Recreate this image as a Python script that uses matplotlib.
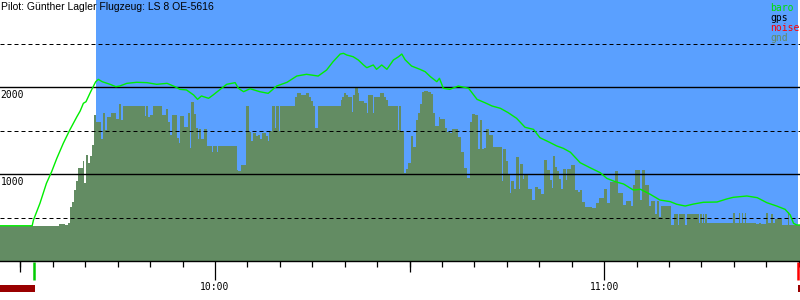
import matplotlib
matplotlib.use("Agg")
import matplotlib.pyplot as plt
from matplotlib.ticker import FixedLocator, MultipleLocator, FuncFormatter

# zeit in minuten ab 9:00, hoehe in m
title = "Pilot: Günther Lagler Flugzeug: LS 8 OE-5616"
t_start, t_end = 26.84, 150.2
t_takeoff, t_landing = 32.1, 149.9
t_flight = (41.6, 149.9)          # blauer bereich
t_noise = [(26.84, 32.2), (149.9, 150.2)]

# gnd: treppen (startzeit, wert)
gnd_t = [26.8, 35.9, 36.9, 37.3, 37.6, 37.9, 38.3, 38.6, 38.9, 39.2, 39.6, 39.8, 40.1,
         40.4, 40.7, 41.0, 41.3, 41.6, 42.4, 42.7, 43.0, 43.3, 44.0, 44.7, 45.2, 45.5,
         45.8, 49.2, 49.4, 49.7, 50.0, 50.4, 51.8, 52.4, 52.8, 53.1, 53.4, 54.1, 54.4,
         54.6, 55.2, 55.8, 56.1, 56.3, 56.8, 57.1, 57.4, 57.6, 57.8, 58.3, 58.8, 59.5,
         59.7, 60.3, 60.5, 63.4, 63.5, 64.0, 64.8, 65.2, 65.6, 65.9, 66.3, 66.6, 66.9,
         67.2, 67.9, 68.2, 68.3, 68.8, 69.3, 69.4, 69.9, 70.0, 72.3, 72.6, 73.3, 74.0,
         74.5, 74.8, 75.1, 75.4, 75.9, 79.4, 79.6, 79.9, 80.2, 80.5, 81.1, 81.3, 81.6,
         82.1, 82.2, 83.0, 83.4, 83.6, 84.4, 84.5, 85.5, 86.1, 86.4, 86.7, 88.2, 88.4,
         88.7, 89.2, 89.5, 89.8, 90.2, 90.5, 91.0, 91.3, 91.6, 91.9, 92.2, 92.9, 93.3,
         93.6, 93.9, 94.6, 94.7, 95.0, 95.5, 95.8, 96.2, 96.6, 97.5, 97.9, 98.4, 98.9,
         99.3, 99.6, 100.1, 100.6, 100.9, 101.2, 101.5, 101.8, 102.3, 102.9, 104.3, 104.4,
         104.9, 105.2, 105.5, 105.7, 106.1, 106.4, 106.9, 107.0, 107.5, 107.7, 108.3, 108.9,
         109.4, 109.8, 110.3, 110.7, 111.2, 111.7, 112.0, 112.1, 112.4, 112.8, 113.1, 113.4,
         113.7, 114.1, 114.3, 114.9, 115.5, 116.0, 116.3, 116.6, 117.1, 118.2, 118.8, 119.2,
         120.0, 120.5, 120.9, 121.7, 122.2, 122.9, 123.4, 124.2, 124.5, 124.8, 125.6, 125.9,
         126.3, 126.9, 127.2, 127.9, 128.2, 128.5, 128.8, 130.3, 130.8, 131.4, 131.6, 132.5,
         132.8, 134.7, 134.8, 135.1, 135.3, 135.4, 135.6, 135.9, 139.9, 140.1, 140.8, 141.0,
         141.3, 141.4, 141.7, 141.9, 143.4, 143.9, 144.2, 145.0, 145.3, 145.8, 146.1, 146.4,
         147.5, 148.4, 148.5]
gnd_v = [406, 429, 414, 441, 625, 682, 816, 923, 1065, 1069, 1153, 897, 1218,
         1126, 1207, 1333, 1678, 1601, 1402, 1705, 1506, 1659, 1705, 1628, 1805, 1621,
         1782, 1667, 1782, 1655, 1675, 1782, 1678, 1747, 1601, 1448, 1678, 1414, 1356,
         1667, 1540, 1705, 1299, 1828, 1690, 1529, 1402, 1517, 1402, 1517, 1322, 1257,
         1322, 1257, 1322, 1046, 1034, 1103, 1782, 1487, 1383, 1471, 1437, 1448, 1402,
         1471, 1441, 1383, 1498, 1782, 1529, 1782, 1498, 1782, 1885, 1927, 1908, 1927,
         1885, 1843, 1782, 1529, 1782, 1851, 1889, 1935, 1908, 1885, 1716, 1908, 1992,
         1927, 1839, 1813, 1698, 1908, 1705, 1885, 1927, 1885, 1851, 1782, 1506, 1782,
         1498, 1008, 1054, 1123, 1437, 1307, 1621, 1698, 1805, 1939, 1954, 1939, 1916,
         1698, 1552, 1659, 1632, 1628, 1525, 1487, 1475, 1513, 1421, 1249, 1069, 957,
         1598, 1690, 1678, 1287, 1621, 1284, 1295, 1513, 1448, 1314, 923, 1287,
         1153, 989, 778, 920, 828, 1199, 824, 1115, 939, 989, 828, 701,
         854, 828, 770, 1161, 1046, 931, 839, 1207, 1084, 1038, 943, 828,
         1057, 931, 1057, 1103, 816, 797, 816, 678, 617, 609, 663, 724,
         824, 663, 904, 1034, 778, 640, 690, 632, 874, 1046, 701, 1046,
         874, 632, 690, 540, 690, 502, 632, 414, 540, 414, 540, 414,
         540, 437, 540, 437, 540, 437, 540, 437, 555, 437, 555, 437,
         555, 437, 555, 437, 425, 437, 425, 555, 437, 540, 437, 483,
         414, 567, 414]

# baro
baro_t = [26.8, 31.8, 32.0, 33.0, 34.0, 34.8, 35.6, 36.6, 37.6, 38.7, 39.2, 39.7, 40.1,
          40.7, 41.0, 41.6, 42.0, 42.6, 43.8, 44.7, 45.3, 46.4, 47.9, 49.5, 51.0, 52.6,
          53.8, 54.6, 55.6, 56.7, 57.3, 57.9, 59.0, 59.7, 60.8, 61.8, 63.1, 63.6, 64.4,
          65.4, 66.9, 68.2, 69.5, 71.1, 72.6, 74.1, 75.9, 77.2, 78.2, 79.3, 79.8, 80.3,
          81.3, 82.1, 82.9, 83.4, 84.4, 84.9, 85.7, 86.5, 87.5, 88.3, 88.8, 89.3, 90.3,
          91.6, 92.4, 93.2, 94.2, 94.6, 95.2, 96.2, 97.5, 99.1, 100.4, 101.6, 102.7, 104.0,
          105.2, 106.5, 107.8, 109.1, 110.1, 111.4, 112.7, 113.7, 114.8, 116.3, 117.8, 119.4,
          120.4, 121.7, 123.0, 124.5, 125.6, 127.1, 128.6, 130.2, 131.2, 132.5, 133.8, 135.3,
          137.4, 138.9, 139.9, 142.0, 143.6, 145.1, 146.6, 147.9, 148.7, 149.2, 149.7, 150.2]
baro_v = [405, 405, 471, 663, 893, 1026, 1180, 1353, 1506, 1659, 1724, 1813, 1831,
          1927, 1973, 2061, 2088, 2061, 2031, 2004, 2011, 2042, 2054, 2050, 2031, 2042,
          2004, 1973, 1966, 1908, 1858, 1897, 1870, 1908, 1973, 2031, 2050, 1985, 1946,
          1980, 1946, 1927, 2011, 2054, 2126, 2146, 2126, 2195, 2291, 2379, 2387, 2368,
          2348, 2310, 2253, 2222, 2253, 2203, 2253, 2203, 2310, 2348, 2379, 2314, 2241,
          2203, 2176, 2119, 2061, 2100, 1985, 1973, 2011, 1985, 1858, 1820, 1782, 1755,
          1705, 1640, 1537, 1513, 1417, 1371, 1322, 1295, 1250, 1130, 1073, 1015,
          950, 912, 885, 816, 824, 767, 701, 682, 652, 632, 655, 675,
          678, 713, 732, 747, 728, 670, 632, 594, 529, 433, 414, 414]

legend = [("baro", "#00e000"), ("gps", "black"), ("noise", "#ff0000"), ("gnd", "#638c63")]

def zeit(m, pos=None):
    m = int(round(m))
    return "%d:%02d" % (9 + m // 60, m % 60)

fig = plt.figure(figsize=(8, 3), dpi=100)
ax = fig.add_axes([0, 39 / 300, 1, 261 / 300])
ax.set_xlim(t_start, t_end)
ax.set_ylim(0, 3000)
for s in ["top", "left", "right"]:
    ax.spines[s].set_visible(False)
ax.spines["bottom"].set_linewidth(1.0)
ax.set_yticks([])

ax.axvspan(t_flight[0], t_flight[1], color="#5aa0ff", lw=0, zorder=0)
ax.fill_between(gnd_t + [t_end], gnd_v + [gnd_v[-1]], 0, step="post",
                facecolor="#638c63", edgecolor="none", lw=0, antialiased=False, zorder=1)

for h in [1000, 2000]:
    ax.axhline(h, color="black", lw=1.0, zorder=2)
for h in [500, 1500, 2500]:
    ax.axhline(h, color="black", lw=0.72, dashes=(4, 3), zorder=2)

ax.plot(baro_t, baro_v, color="#00ee00", lw=1.0, zorder=3)

# zeitachse
ax.xaxis.set_major_locator(FixedLocator([60, 120]))
ax.xaxis.set_minor_locator(MultipleLocator(5))
ax.xaxis.set_major_formatter(FuncFormatter(zeit))
ax.tick_params(axis="x", which="major", length=13.5, width=0.9, pad=1.5,
               labelsize=7, labelfontfamily="DejaVu Sans Mono")
ax.tick_params(axis="x", which="minor", length=4.5, width=0.9)
xt = ax.get_xaxis_transform()
ax.vlines([30, 90], -11 / 261, 0, transform=xt, color="black", lw=0.9, clip_on=False)
ax.vlines([t_takeoff], -19 / 261, -1 / 261, transform=xt, color="#00cc00", lw=1.8, clip_on=False)
ax.vlines([t_landing], -19 / 261, -1 / 261, transform=xt, color="#ff0000", lw=1.8, clip_on=False)
for a, b in t_noise:
    ax.axvspan(a, b, ymin=-31 / 261, ymax=-24 / 261, color="#990000", lw=0, clip_on=False)

yt = ax.get_yaxis_transform()
for h in [1000, 2000]:
    ax.text(0.001, h - 30, str(h), transform=yt, va="top", ha="left",
            fontsize=7, family="DejaVu Sans Mono", zorder=4)

fig.text(0.001, 1 - 1.5 / 300, title, va="top", ha="left", fontsize=7.5,
         family="Liberation Sans")
for i, (name, c) in enumerate(legend):
    fig.text(770 / 800, 1 - (3 + 10 * i) / 300, name, color=c, va="top", ha="left",
             fontsize=7, family="DejaVu Sans Mono")

fig.savefig("out.png", dpi=100)
